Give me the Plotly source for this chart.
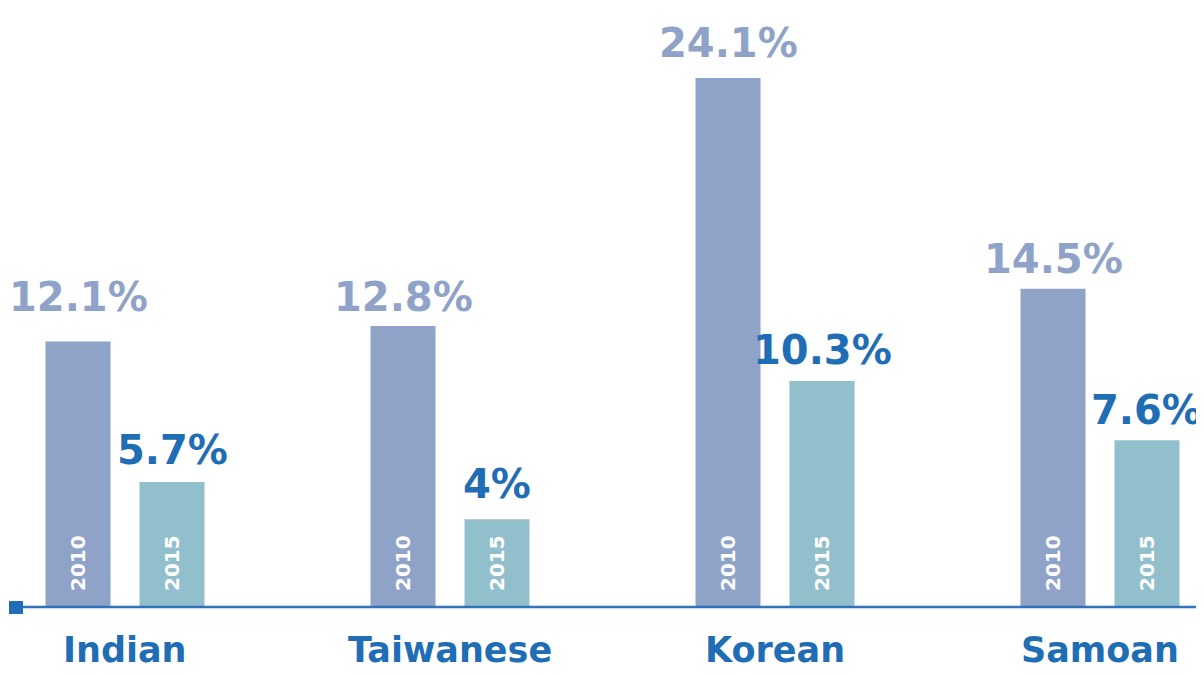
import plotly.graph_objects as go

categories = ["Indian", "Taiwanese", "Korean", "Samoan"]
values_2010 = [12.1, 12.8, 24.1, 14.5]
values_2015 = [5.7, 4.0, 10.3, 7.6]
labels_2010 = ["12.1%", "12.8%", "24.1%", "14.5%"]
labels_2015 = ["5.7%", "4%", "10.3%", "7.6%"]
series_names = ["2010", "2015"]

# label lift above each bar (pixels) - styling only
lift_2010 = [19, 4, 10, 5]
lift_2015 = [7, 10, 6, 5]

C2010 = "#8fa3c9"
C2015 = "#92bfcc"
BLUE = "#1f6db5"

# page body has an 8px margin; size the figure to the visible window
PAD = 8
W, H = 1204 - PAD, 674 - PAD
BW = 0.2
OFF = [-0.2446, 0.0446]

fig = go.Figure()
for name, vals, col, off in [(series_names[0], values_2010, C2010, OFF[0]),
                             (series_names[1], values_2015, C2015, OFF[1])]:
    fig.add_trace(go.Bar(x=categories, y=vals, name=name, marker_color=col,
                         marker_line_width=0, width=BW, offset=off,
                         hoverinfo="skip"))

ann = []
for i, cat in enumerate(categories):
    c10 = i + OFF[0] + BW / 2
    c15 = i + OFF[1] + BW / 2
    ann.append(dict(x=c10, y=values_2010[i], text=labels_2010[i], showarrow=False,
                    yanchor="bottom", yshift=lift_2010[i],
                    font=dict(family="DejaVu Sans", size=40, color=C2010, weight="bold")))
    ann.append(dict(x=c15, y=values_2015[i], text=labels_2015[i], showarrow=False,
                    yanchor="bottom", yshift=lift_2015[i],
                    font=dict(family="DejaVu Sans", size=40, color=BLUE, weight="bold")))
    for cx, t in [(c10, series_names[0]), (c15, series_names[1])]:
        ann.append(dict(x=cx, y=0, text=t, showarrow=False, textangle=-90,
                        yanchor="bottom", yshift=14,
                        font=dict(family="DejaVu Sans", size=20, color="white", weight="bold")))
    ann.append(dict(x=i, y=0, text=cat, showarrow=False, yanchor="top", yshift=-21,
                    font=dict(family="DejaVu Sans", size=35, color=BLUE, weight="bold")))

base_py = 607 - PAD


def px(p):
    return (p - PAD) / W


def py(p):
    return (base_py - (p - PAD)) / base_py


shapes = [
    dict(type="line", xref="paper", yref="paper", x0=px(10), x1=px(1201),
         y0=0, y1=0, line=dict(color="#2f74ba", width=2.5), layer="above"),
    dict(type="rect", xref="paper", yref="paper", x0=px(9), x1=px(23),
         y0=py(614), y1=py(601), fillcolor="#1f6db5", line_width=0, layer="above"),
    dict(type="line", xref="paper", yref="paper", x0=px(1201.5), x1=px(1201.5),
         y0=py(614), y1=py(598), line=dict(color="#1f6db5", width=3), layer="above"),
]

r0 = -(125 - PAD) / 325
fig.update_layout(
    width=W, height=H,
    margin=dict(l=0, r=0, t=0, b=H - base_py),
    paper_bgcolor="white", plot_bgcolor="white",
    showlegend=False,
    xaxis=dict(range=[r0, r0 + W / 325], showticklabels=False, showgrid=False,
               zeroline=False, showline=False),
    yaxis=dict(range=[0, base_py / 21.95], visible=False, showgrid=False, zeroline=False),
    annotations=ann,
    shapes=shapes,
)

fig.write_html("out.html")
